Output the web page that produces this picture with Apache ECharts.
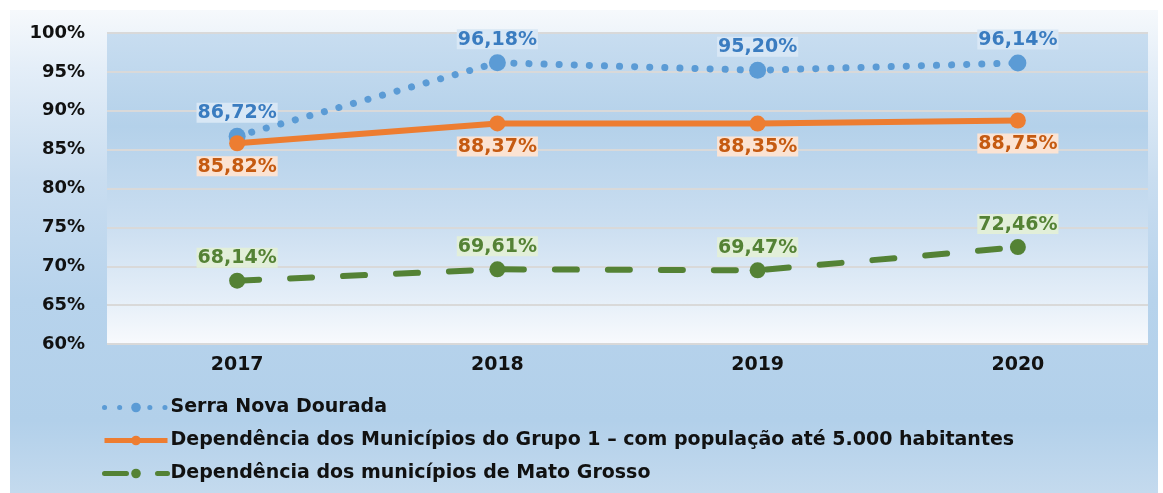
<!DOCTYPE html>
<html>
<head>
<meta charset="utf-8">
<script src="https://cdn.jsdelivr.net/npm/echarts@6/dist/echarts.min.js"></script>
<style>
  html, body { margin: 0; padding: 0; background: #fff; }
  #chart {
    position: absolute; left: 10px; top: 10px; width: 1148px; height: 483px;
    background: linear-gradient(to bottom, #f6f9fc 0%, #e4eef8 12%, #c9ddf0 35%, #b7d3ec 60%, #b2d0ea 85%, #c4daee 100%);
  }
</style>
</head>
<body>
<div id="chart"></div>
<script>
const years = ['2017', '2018', '2019', '2020'];
const serraNova = [86.72, 96.18, 95.20, 96.14];
const grupo1 = [85.82, 88.37, 88.35, 88.75];
const matoGrosso = [68.14, 69.61, 69.47, 72.46];
const seriesNames = [
  'Serra Nova Dourada',
  'Dependência dos Municípios do Grupo 1 – com população até 5.000 habitantes',
  'Dependência dos municípios de Mato Grosso'
];

const chart = echarts.init(document.getElementById('chart'), null, { renderer: 'canvas' });

const font = '"DejaVu Sans", Arial, sans-serif';

// rótulo de dados com fundo claro
function labelStyle(color, bg, position) {
  return {
    show: true,
    position: position,
    distance: 5,
    fontFamily: font,
    fontWeight: 'bold',
    fontSize: 19,
    color: color,
    backgroundColor: bg,
    padding: [1, 1, 0, 1],
    formatter: (p) => p.value.toFixed(2).replace('.', ',') + '%'
  };
}

chart.setOption({
  backgroundColor: 'transparent',
  animation: false,
  grid: {
    left: 97,
    top: 23,
    right: 10,
    bottom: 149,
    show: true,
    borderWidth: 0,
    backgroundColor: new echarts.graphic.LinearGradient(0, 0, 0, 1, [
      { offset: 0, color: '#c8ddf0' },
      { offset: 0.3, color: '#b4d1ea' },
      { offset: 0.6, color: '#c9ddf0' },
      { offset: 0.85, color: '#e4eef8' },
      { offset: 1, color: '#f8fafd' }
    ])
  },
  legend: {
    orient: 'vertical',
    left: 92,
    top: 388,
    height: 100,
    padding: 0,
    itemWidth: 63,
    itemHeight: 12,
    itemGap: 14,
    lineStyle: { width: 5 },
    textStyle: {
      fontFamily: font,
      fontWeight: 'bold',
      fontSize: 19,
      color: '#111',
      padding: [0, 0, 0, -2]
    },
    data: seriesNames
  },
  xAxis: {
    type: 'category',
    boundaryGap: true,
    data: years,
    axisLine: { show: false },
    axisTick: { show: false },
    axisLabel: {
      margin: 12,
      fontFamily: font,
      fontWeight: 'bold',
      fontSize: 19,
      color: '#111'
    }
  },
  yAxis: {
    type: 'value',
    min: 60,
    max: 100,
    interval: 5,
    axisLine: { show: false },
    axisTick: { show: false },
    splitLine: { lineStyle: { color: '#d9d9d9', width: 2 } },
    axisLabel: {
      margin: 22,
      fontFamily: font,
      fontWeight: 'bold',
      fontSize: 18,
      color: '#111',
      formatter: (v) => v + '%'
    }
  },
  series: [
    {
      name: seriesNames[0],
      type: 'line',
      data: serraNova,
      symbol: 'circle',
      symbolSize: 17,
      color: '#5b9bd5',
      lineStyle: { width: 7, type: [0.1, 15], cap: 'round', color: '#5b9bd5' },
      label: labelStyle('#3a7cc0', '#d8e7f5', 'top'),
      z: 3
    },
    {
      name: seriesNames[1],
      type: 'line',
      data: grupo1,
      symbol: 'circle',
      symbolSize: 16,
      color: '#ed7d31',
      lineStyle: { width: 6, color: '#ed7d31' },
      label: labelStyle('#c55a11', '#fbe3d3', 'bottom'),
      z: 4
    },
    {
      name: seriesNames[2],
      type: 'line',
      data: matoGrosso,
      symbol: 'circle',
      symbolSize: 16,
      color: '#548235',
      lineStyle: { width: 6, type: [22, 31], cap: 'round', color: '#548235' },
      label: labelStyle('#548235', '#e2efd9', 'top'),
      z: 3
    }
  ]
});
</script>
</body>
</html>
